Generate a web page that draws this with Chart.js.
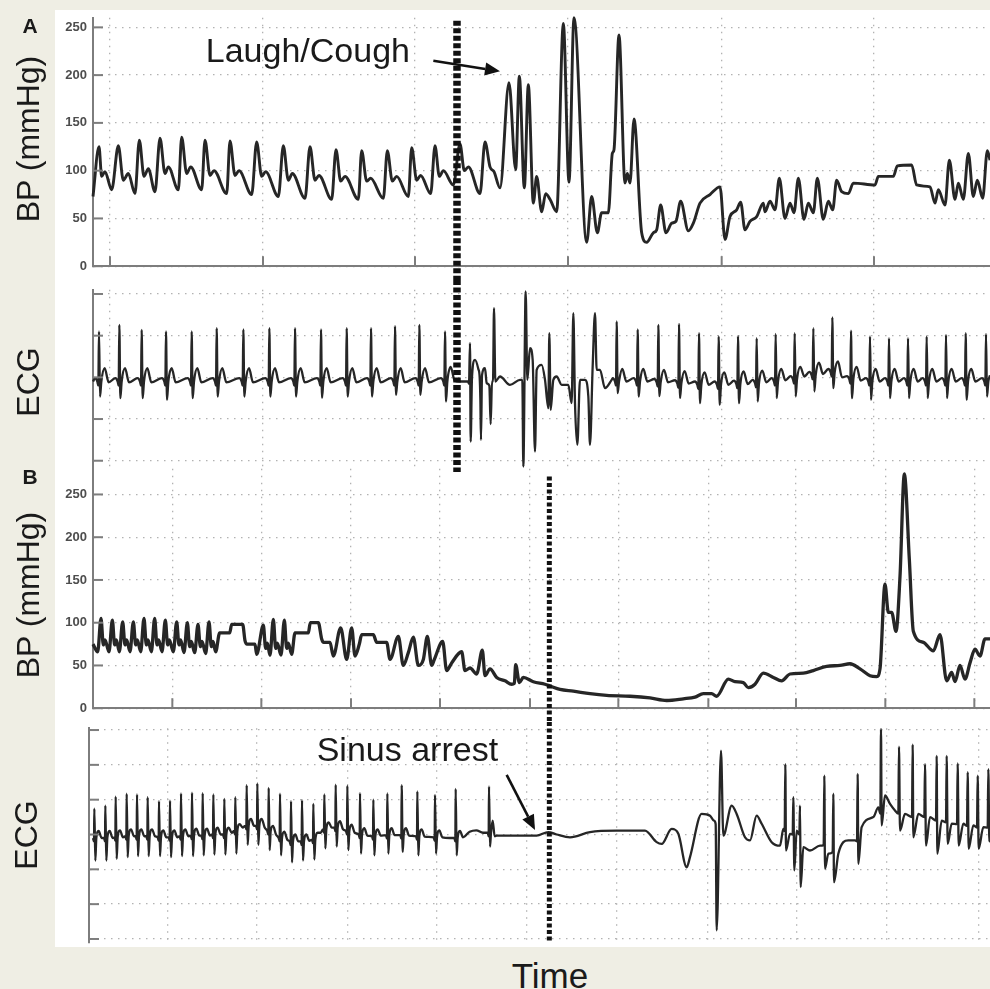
<!DOCTYPE html>
<html>
<head>
<meta charset="utf-8">
<script src="https://cdn.jsdelivr.net/npm/chart.js@4.4.0/dist/chart.umd.min.js"></script>
<style>
  html, body { margin: 0; padding: 0; }
  body { width: 990px; height: 989px; background: #efeee4; position: relative; overflow: hidden;
         font-family: "Liberation Sans", Arial, sans-serif; color: #1a1a1a; }
  #sheet { position: absolute; left: 55px; top: 10px; width: 935px; height: 937px; background: #fff; }
  canvas { position: absolute; left: 0; }
  .txt { position: absolute; white-space: nowrap; }
  .rot { position: absolute; white-space: nowrap; font-size: 32px; line-height: 32px;
         transform: translate(-50%, -50%) rotate(-90deg); }
  .tag { position: absolute; font-weight: bold; font-size: 21px; line-height: 21px;
         transform: translate(-50%, -50%); }
</style>
</head>
<body>
<div id="sheet"></div>
<canvas id="bpA"></canvas>
<canvas id="ecgA"></canvas>
<canvas id="bpB"></canvas>
<canvas id="ecgB"></canvas>

<div class="tag" style="left:30px; top:24.5px;">A</div>
<div class="tag" style="left:30px; top:475.5px;">B</div>
<div class="rot" style="left:28px; top:138.5px;">BP (mmHg)</div>
<div class="rot" style="left:28px; top:382px;">ECG</div>
<div class="rot" style="left:28px; top:594.5px;">BP (mmHg)</div>
<div class="rot" style="left:26px; top:835px;">ECG</div>
<div class="txt" style="left:205.8px; top:32.9px; font-size:34px; line-height:34px;">Laugh/Cough</div>
<div class="txt" style="left:316.7px; top:731.6px; font-size:34px; line-height:34px;">Sinus arrest</div>
<div class="txt" style="left:450px; width:200px; text-align:center; top:957.9px; font-size:35px; line-height:35px;">Time</div>

<script>
// --- Datos: tiempo en muestras, valor de la señal ---

// Tick / grid positions
const bpTicks = [0, 50, 100, 150, 200, 250];
const ecgATicks = [-2, -1, 0, 1, 2];
const ecgBTicks = [-3, -2, -1, 0, 1, 2, 3];
const gridA = [51, 510, 966, 1425, 1886, 2343];
const gridB = [238, 505, 774, 1041, 1311, 1576, 1846, 2109, 2377, 2644];
const gridECGB = [225, 492, 765, 1032, 1302, 1572, 1845, 2112, 2382, 2658];

// Event markers (time) and arrows
const coughMark = 1092;
const arrestMark = 1369;
const coughArrow = [[1021, 215], [1221, 204]];
const arrestArrow = [[1241, 1.71], [1326, 0.13]];

// Panel A - BP (mmHg)
const bpA = [
  [0,73],[18,125],[26,94],[36,99],[56,80],
  [76,126],[91,90],[106,97],[126,76],
  [139,132],[153,94],[166,102],[186,78],
  [201,134],[216,97],[226,104],[256,80],
  [266,135],[281,97],[293,104],[326,80],
  [336,132],[351,95],[363,100],[401,76],
  [411,131],[426,95],[438,100],[476,75],
  [491,130],[506,94],[518,99],[556,73],
  [571,126],[586,90],[598,97],[636,71],
  [651,125],[666,90],[678,95],[716,70],
  [729,122],[743,89],[756,94],[796,70],
  [806,121],[821,89],[833,92],[871,71],
  [883,121],[898,89],[911,94],[946,73],
  [956,124],[971,90],[983,95],[1013,76],
  [1026,126],[1039,94],[1051,100],[1081,85],
  [1101,128],[1114,100],[1126,104],[1161,76],
  [1176,130],[1191,104],[1203,99],[1221,82],
  [1248,192],[1268,101],[1279,199],[1294,82],[1306,190],[1321,66],[1331,94],[1346,57],
  [1358,76],[1371,70],[1391,57],[1411,254],[1428,88],[1443,260],[1481,25],[1496,73],
  [1513,35],[1526,56],[1546,56],[1558,118],[1563,122],[1578,242],[1596,87],[1603,97],
  [1611,87],[1623,154],[1646,35],[1661,25],[1681,35],[1691,38],[1703,64],[1719,35],
  [1736,45],[1749,47],[1763,68],[1786,37],[1801,45],[1821,66],[1851,75],[1881,83],
  [1896,28],[1911,52],[1931,59],[1943,67],[1956,38],[1971,47],[1991,52],[2011,66],
  [2016,57],[2031,68],[2046,59],[2059,92],[2076,50],[2091,66],[2103,56],[2116,92],
  [2133,49],[2146,66],[2161,56],[2173,92],[2191,49],[2206,68],[2219,59],[2231,90],
  [2246,78],[2266,76],[2281,87],[2346,85],[2356,94],[2401,94],[2413,105],[2456,106],
  [2471,85],[2511,83],[2526,66],[2536,80],[2556,64],[2569,111],[2586,70],[2596,87],
  [2611,70],[2626,118],[2641,73],[2653,90],[2669,71],[2683,121],[2691,111]
];

// Panel A - ECG
const ecgA = [
  [0,-0.1],
  [6,-0.02],[13,-0.1],[16,-0.2],[18,1.1],[21,-0.46],[25,-0.1],[35,0.22],[47,-0.12],
  [67,-0.02],[74,-0.1],[77,-0.2],[79,1.26],[82,-0.5],[86,-0.1],[96,0.22],[108,-0.12],
  [134,-0.02],[141,-0.1],[144,-0.2],[146,1.14],[149,-0.5],[153,-0.1],[163,0.22],[175,-0.12],
  [207,-0.02],[214,-0.1],[217,-0.2],[219,1.1],[222,-0.54],[226,-0.1],[236,0.22],[248,-0.12],
  [284,-0.02],[291,-0.1],[294,-0.2],[296,1.1],[299,-0.5],[303,-0.1],[313,0.22],[325,-0.12],
  [359,-0.02],[366,-0.1],[369,-0.2],[371,1.18],[374,-0.46],[378,-0.1],[388,0.22],[400,-0.12],
  [439,-0.02],[446,-0.1],[449,-0.2],[451,1.15],[454,-0.46],[458,-0.1],[468,0.22],[480,-0.12],
  [517,-0.02],[524,-0.1],[527,-0.2],[529,1.18],[532,-0.46],[536,-0.1],[546,0.22],[558,-0.12],
  [594,-0.02],[601,-0.1],[604,-0.2],[606,1.18],[609,-0.46],[613,-0.1],[623,0.22],[635,-0.12],
  [672,-0.02],[679,-0.1],[682,-0.2],[684,1.15],[687,-0.49],[691,-0.1],[701,0.22],[713,-0.12],
  [749,-0.02],[756,-0.1],[759,-0.2],[761,1.18],[764,-0.46],[768,-0.1],[778,0.22],[790,-0.12],
  [822,-0.02],[829,-0.1],[832,-0.2],[834,1.18],[837,-0.46],[841,-0.1],[851,0.22],[863,-0.12],
  [894,-0.02],[901,-0.1],[904,-0.2],[906,1.23],[909,-0.42],[913,-0.1],[923,0.22],[935,-0.12],
  [967,-0.02],[974,-0.1],[977,-0.2],[979,1.26],[982,-0.42],[986,-0.1],[996,0.22],[1008,-0.12],
  [1044,-0.02],[1051,-0.1],[1054,-0.2],[1056,1.1],[1059,-0.58],[1063,-0.1],[1073,0.25],[1085,-0.08],
  [1100,-0.1],[1125,-0.1],[1128,-0.15],[1131,0.82],[1133,-1.54],[1137,0.0],[1146,0.42],[1156,0.2],
  [1160,0.0],[1162,-0.5],[1164,-1.5],[1167,0.05],[1176,0.22],[1181,-0.14],[1189,-0.2],[1193,-1.12],
  [1197,-0.1],[1200,-0.1],[1203,1.66],[1207,-0.1],[1221,0.02],[1251,-0.18],[1281,-0.06],[1288,-0.06],
  [1291,-2.14],[1298,2.06],[1303,-0.06],[1311,0.7],[1319,0.42],[1326,-1.78],[1331,0.18],[1346,0.3],
  [1356,-0.06],[1366,-0.74],[1369,1.06],[1373,-0.78],[1381,-0.06],[1391,0.02],[1406,-0.18],[1426,-0.18],
  [1436,-0.62],[1441,1.54],[1446,-0.62],[1453,-1.62],[1461,-0.06],[1476,-0.06],[1486,-0.46],[1491,-1.62],
  [1499,0.26],[1506,1.54],[1511,0.18],[1521,0.18],[1536,-0.26],[1556,-0.06],
  [1559,-0.02],[1566,-0.1],[1569,-0.2],[1571,1.34],[1574,-0.38],[1578,-0.1],[1588,0.2],[1600,-0.1],
  [1622,-0.02],[1629,-0.1],[1632,-0.2],[1634,1.15],[1637,-0.46],[1641,-0.1],[1651,0.2],[1663,-0.1],
  [1684,-0.04],[1691,-0.12],[1694,-0.22],[1696,1.26],[1699,-0.45],[1703,-0.12],[1713,0.18],[1725,-0.12],
  [1746,-0.07],[1753,-0.15],[1756,-0.25],[1758,1.28],[1761,-0.5],[1765,-0.15],[1775,0.15],[1787,-0.15],
  [1806,-0.1],[1813,-0.18],[1816,-0.28],[1818,1.06],[1821,-0.62],[1825,-0.18],[1835,0.12],[1847,-0.18],
  [1865,-0.1],[1872,-0.18],[1875,-0.28],[1877,0.98],[1880,-0.66],[1884,-0.18],[1894,0.12],[1906,-0.18],
  [1923,-0.08],[1930,-0.16],[1933,-0.26],[1935,0.99],[1938,-0.62],[1942,-0.16],[1952,0.14],[1964,-0.16],
  [1979,-0.06],[1986,-0.14],[1989,-0.24],[1991,0.94],[1994,-0.58],[1998,-0.14],[2008,0.16],[2020,-0.12],
  [2036,-0.02],[2043,-0.1],[2046,-0.2],[2048,1.04],[2051,-0.5],[2055,-0.1],[2065,0.2],[2077,-0.07],
  [2093,0.03],[2100,-0.05],[2103,-0.15],[2105,1.06],[2108,-0.46],[2112,-0.05],[2122,0.25],[2134,0.02],
  [2149,0.13],[2156,0.05],[2159,-0.05],[2161,1.18],[2164,-0.34],[2168,0.05],[2178,0.35],[2190,0.08],
  [2206,0.2],[2213,0.12],[2216,0.02],[2218,1.44],[2221,-0.26],[2225,0.12],[2235,0.38],[2247,0.0],
  [2262,0.03],[2269,-0.05],[2272,-0.15],[2274,1.12],[2277,-0.5],[2281,-0.05],[2291,0.25],[2303,-0.08],
  [2319,-0.02],[2326,-0.1],[2329,-0.2],[2331,0.98],[2334,-0.54],[2338,-0.1],[2348,0.2],[2360,-0.1],
  [2376,-0.02],[2383,-0.1],[2386,-0.2],[2388,0.94],[2391,-0.5],[2395,-0.1],[2405,0.2],[2417,-0.1],
  [2433,-0.02],[2440,-0.1],[2443,-0.2],[2445,0.94],[2448,-0.5],[2452,-0.1],[2462,0.2],[2474,-0.1],
  [2489,-0.02],[2496,-0.1],[2499,-0.2],[2501,0.98],[2504,-0.5],[2508,-0.1],[2518,0.2],[2530,-0.1],
  [2547,-0.02],[2554,-0.1],[2557,-0.2],[2559,1.02],[2562,-0.5],[2566,-0.1],[2576,0.2],[2588,-0.1],
  [2606,-0.02],[2613,-0.1],[2616,-0.2],[2618,1.06],[2621,-0.54],[2625,-0.1],[2635,0.2],[2647,-0.1],
  [2667,-0.02],[2674,-0.1],[2677,-0.2],[2679,1.04],[2682,-0.46],[2686,-0.1],[2691,0.05]
];

// Panel B - BP (mmHg)
const bpB = [
  [0,75],
  [14,66],[24,105],[31,74],[36,80],[48,66],[58,103],[65,74],[70,80],
  [79,66],[89,101],[96,74],[101,80],[111,66],[121,101],[128,74],[133,80],
  [143,66],[153,105],[160,74],[165,80],[175,66],[185,105],[192,74],[197,80],
  [207,66],[217,103],[224,74],[229,80],[241,66],[251,101],[258,74],[263,80],
  [273,65],[283,100],[290,72],[295,78],[305,65],[315,98],[322,72],[327,78],
  [338,64],[348,101],[355,72],[360,78],[368,66],[380,88],[410,88],[416,98],
  [449,98],[456,79],[462,75],[486,75],[491,63],[511,97],[518,70],[523,76],
  [531,62],[541,104],[548,70],[553,76],[564,62],[574,103],[581,70],[586,76],
  [596,63],[606,88],[646,88],[652,100],[676,100],[686,81],[692,77],[711,77],
  [721,61],[743,94],[761,57],[776,94],[786,61],[799,75],[806,86],[841,86],
  [851,77],[881,77],[891,57],[916,84],[931,50],[946,65],[961,83],[976,50],
  [991,57],[1003,84],[1016,50],[1024,57],[1049,78],[1061,44],[1076,53],[1106,66],
  [1116,44],[1131,47],[1151,40],[1168,68],[1176,38],[1191,46],[1211,36],[1236,32],
  [1256,28],[1264,29],[1268,51],[1279,30],[1291,36],[1321,31],[1356,28],[1371,26],
  [1401,22],[1441,20],[1491,17],[1541,15],[1611,14],[1671,12],[1721,9],[1771,11],
  [1806,13],[1831,17],[1856,17],[1871,14],[1906,34],[1926,31],[1951,30],[1966,24],
  [1986,28],[2011,41],[2041,36],[2066,32],[2091,40],[2131,41],[2161,44],[2201,49],
  [2241,50],[2271,52],[2301,46],[2331,38],[2351,37],[2361,46],[2376,145],[2386,112],
  [2396,112],[2409,90],[2421,154],[2434,274],[2449,174],[2461,90],[2491,77],[2521,67],
  [2541,86],[2561,32],[2576,42],[2586,31],[2601,50],[2616,34],[2631,53],[2646,69],
  [2661,61],[2676,81],[2691,81]
];

// Panel B - ECG
const ecgB = [
  [0,-0.1],[3,-0.2],[4,0.74],[7,-0.75],[10,-0.1],[17,0.1],[26,-0.1],
  [33,-0.1],[36,-0.2],[37,0.83],[40,-0.75],[43,-0.1],[50,0.1],[59,-0.1],
  [64,-0.08],[67,-0.18],[68,1.09],[71,-0.7],[74,-0.08],[81,0.12],[90,-0.08],
  [97,-0.05],[100,-0.15],[101,1.17],[104,-0.65],[107,-0.05],[114,0.15],[123,-0.05],
  [128,-0.05],[131,-0.15],[132,1.15],[135,-0.62],[138,-0.05],[145,0.15],[154,-0.05],
  [160,-0.05],[163,-0.15],[164,1.07],[167,-0.62],[170,-0.05],[177,0.15],[186,-0.05],
  [194,-0.08],[197,-0.18],[198,0.96],[201,-0.62],[204,-0.08],[211,0.12],[220,-0.08],
  [227,-0.08],[230,-0.18],[231,0.97],[234,-0.65],[237,-0.08],[244,0.12],[253,-0.08],
  [260,-0.05],[263,-0.15],[264,1.18],[267,-0.62],[270,-0.05],[277,0.15],[286,-0.05],
  [293,-0.03],[296,-0.13],[297,1.2],[300,-0.62],[303,-0.03],[310,0.17],[319,-0.03],
  [325,-0.03],[328,-0.13],[329,1.19],[332,-0.6],[335,-0.03],[342,0.17],[351,-0.03],
  [357,0],[360,-0.1],[361,1.15],[364,-0.58],[367,0],[374,0.2],[383,0],
  [390,0],[393,-0.1],[394,1.02],[397,-0.58],[400,0],[407,0.2],[416,0.05],
  [423,0.1],[426,0],[427,1.07],[430,-0.55],[433,0.1],[440,0.3],[449,0.2],
  [457,0.25],[460,0.15],[461,1.42],[464,-0.3],[467,0.25],[474,0.45],[483,0.25],
  [489,0.25],[492,0.15],[493,1.47],[496,-0.3],[499,0.25],[506,0.45],[515,0.2],
  [523,0.1],[526,0],[527,1.34],[530,-0.45],[533,0.1],[540,0.25],[549,0],
  [557,-0.1],[560,-0.2],[561,1.17],[564,-0.6],[567,-0.1],[574,0.08],[583,-0.15],
  [590,-0.2],[593,-0.3],[594,0.96],[597,-0.8],[600,-0.2],[607,0],[616,-0.2],
  [623,-0.2],[626,-0.3],[627,0.99],[630,-0.75],[633,-0.2],[640,0],[649,-0.18],
  [657,-0.15],[660,-0.25],[661,0.88],[664,-0.72],[667,-0.15],[674,0.05],[683,0.05],
  [690,0.15],[693,0.05],[694,1.15],[697,-0.4],[700,0.15],[707,0.35],[716,0.2],
  [724,0.2],[727,0.1],[728,1.43],[731,-0.35],[734,0.2],[741,0.38],[750,0.15],
  [759,0.1],[762,0],[763,1.4],[766,-0.45],[769,0.1],[776,0.28],[785,0.05],
  [797,0],[800,-0.1],[801,1.19],[804,-0.55],[807,0],[814,0.18],[823,-0.03],
  [837,-0.05],[840,-0.15],[841,1.0],[844,-0.6],[847,-0.05],[854,0.15],[863,-0.03],
  [879,-0.02],[882,-0.12],[883,1.18],[886,-0.55],[889,-0.02],[896,0.18],[905,-0.02],
  [922,-0.02],[925,-0.12],[926,1.42],[929,-0.5],[932,-0.02],[939,0.18],[948,-0.03],
  [969,-0.05],[972,-0.15],[973,1.24],[976,-0.6],[979,-0.05],[986,0.15],[995,-0.06],
  [1022,-0.08],[1025,-0.18],[1026,1.14],[1029,-0.55],[1032,-0.08],[1039,0.12],[1048,-0.08],
  [1070,-0.1],[1084,-0.1],[1087,-0.2],[1088,1.31],[1091,-0.6],[1094,-0.1],[1101,0.1],[1110,-0.08],
  [1130,0.08],[1150,0.12],[1170,0.05],
  [1184,0.05],[1187,-0.05],[1188,1.38],[1191,-0.35],[1194,0.05],[1199,0.4],[1205,-0.05],
  [1211,-0.03],[1331,-0.03],[1366,0.07],[1391,0.0],[1431,-0.08],[1491,0.07],[1571,0.11],
  [1656,0.11],[1691,-0.22],[1706,-0.27],[1736,0.16],[1756,0.02],[1781,-0.94],[1791,-0.65],
  [1826,0.59],[1851,0.54],[1863,0.4],[1868,0.3],[1871,-2.75],[1884,2.41],[1891,-0.03],
  [1916,0.83],[1931,0.59],[1956,-0.08],[1971,-0.17],[1991,0.54],[2006,0.31],[2036,-0.22],
  [2061,-0.32],[2071,0.16],[2075,0.1],[2077,2.02],[2079,-0.46],[2091,0.02],[2099,0.0],
  [2101,1.07],[2104,-1.03],[2111,0.11],[2119,0.0],[2121,0.83],[2123,-1.51],[2131,-0.36],
  [2151,-0.46],[2181,-0.32],[2192,-0.3],[2194,1.69],[2196,-0.98],[2206,-0.55],[2219,-0.5],
  [2221,1.17],[2223,-1.37],[2236,-0.55],[2266,-0.17],[2286,-0.17],[2292,-0.2],[2294,1.74],
  [2296,-0.84],[2306,0.21],[2341,0.5],[2356,0.78],[2362,0.6],[2364,3.03],[2366,0.26],
  [2376,1.12],[2391,0.88],[2406,0.69],[2416,0.6],[2418,2.52],[2421,0.11],[2436,0.59],
  [2457,0.5],[2459,2.58],[2461,-0.08],[2476,0.59],[2494,0.5],[2496,2.02],[2499,-0.32],
  [2511,0.5],[2529,0.4],[2531,2.26],[2533,-0.55],[2546,0.4],[2559,0.35],[2561,2.26],
  [2564,-0.27],[2576,0.31],[2592,0.3],[2594,2.04],[2597,-0.32],[2611,0.31],[2622,0.25],
  [2624,1.79],[2627,-0.41],[2641,0.26],[2652,0.2],[2654,1.69],[2657,-0.41],[2671,0.21],
  [2684,0.2],[2686,1.88],[2689,-0.2],[2691,0.21]
];

// --- Estilos ---
const AXIS = '#7d7d7d', GRID = '#b2b2b2', INK = '#262626';
const DOTS = [1.5, 5.5];

// Ticks hacia dentro, marcador discontinuo y flechas
const decor = {
  id: 'decor',
  afterDatasetsDraw(chart, args, o) {
    const { ctx, chartArea: a, scales: { x, y } } = chart;
    ctx.save();
    ctx.strokeStyle = AXIS;
    ctx.lineWidth = 2;
    y.ticks.forEach(t => {
      const py = y.getPixelForValue(t.value);
      ctx.beginPath(); ctx.moveTo(a.left, py); ctx.lineTo(a.left + 10, py); ctx.stroke();
    });
    if (o.xTicksUp) {
      x.ticks.forEach(t => {
        const px = x.getPixelForValue(t.value);
        ctx.beginPath(); ctx.moveTo(px, a.bottom); ctx.lineTo(px, a.bottom - 10); ctx.stroke();
      });
    }
    const m = o.marker;
    if (m) {
      const px = x.getPixelForValue(m.t);
      const y1 = m.from == null ? 0 : y.getPixelForValue(m.from);
      const y2 = m.to == null ? chart.height : y.getPixelForValue(m.to);
      ctx.setLineDash(m.dash);
      ctx.lineWidth = m.width;
      ctx.strokeStyle = '#111';
      ctx.beginPath(); ctx.moveTo(px, y1); ctx.lineTo(px, y2); ctx.stroke();
      ctx.setLineDash([]);
    }
    if (o.arrow) {
      const [p, q] = o.arrow;
      const x1 = x.getPixelForValue(p[0]), y1 = y.getPixelForValue(p[1]);
      const x2 = x.getPixelForValue(q[0]), y2 = y.getPixelForValue(q[1]);
      const ang = Math.atan2(y2 - y1, x2 - x1);
      const L = 15, W = 6.5;
      const bx = x2 - L * Math.cos(ang), by = y2 - L * Math.sin(ang);
      ctx.strokeStyle = '#111'; ctx.fillStyle = '#111'; ctx.lineWidth = 2.6;
      ctx.beginPath(); ctx.moveTo(x1, y1); ctx.lineTo(bx, by); ctx.stroke();
      ctx.beginPath();
      ctx.moveTo(x2, y2);
      ctx.lineTo(bx - W * Math.sin(ang), by + W * Math.cos(ang));
      ctx.lineTo(bx + W * Math.sin(ang), by - W * Math.cos(ang));
      ctx.closePath(); ctx.fill();
    }
    ctx.restore();
  }
};

function panel(id, p) {
  const cv = document.getElementById(id);
  cv.width = 990;
  cv.height = p.height;
  cv.style.top = p.top + 'px';
  return new Chart(cv, {
    type: 'line',
    data: {
      datasets: [{
        data: p.points.map(([x, y]) => ({ x, y })),
        borderColor: INK,
        borderWidth: p.lineWidth,
        pointRadius: 0,
        cubicInterpolationMode: 'monotone',
        clip: false,
      }],
    },
    options: {
      responsive: false,
      animation: false,
      events: [],
      layout: { padding: { top: p.padTop, bottom: p.padBottom, left: 0, right: 0 } },
      scales: {
        x: {
          type: 'linear', min: p.xMin, max: 2691,
          afterBuildTicks: s => { s.ticks = p.xGrid.map(value => ({ value })); },
          afterFit: s => { s.height = 0; },
          ticks: { display: false },
          grid: { color: GRID, lineWidth: 1.3, drawTicks: false },
          border: { display: p.xLine, color: AXIS, width: 2, dash: DOTS },
        },
        y: {
          type: 'linear', min: p.yMin, max: p.yMax,
          afterBuildTicks: s => { s.ticks = p.yTicks.map(value => ({ value })); },
          afterFit: s => { s.width = p.axisLeft; },
          ticks: {
            display: p.labels, padding: 6, color: '#4d4d4d',
            font: { family: 'Liberation Sans', size: 13, weight: 'bold' },
          },
          grid: { color: GRID, lineWidth: 1.3, drawTicks: false },
          border: { color: AXIS, width: 2, dash: DOTS },
        },
      },
      plugins: {
        legend: { display: false },
        tooltip: { enabled: false },
        decor: { xTicksUp: p.xLine, marker: p.marker, arrow: p.arrow },
      },
    },
    plugins: [decor],
  });
}

panel('bpA', {
  top: 4, height: 276, padTop: 12.4, padBottom: 13, axisLeft: 93,
  xMin: 0, xGrid: gridA, yMin: 0, yMax: 260, yTicks: bpTicks, labels: true, xLine: true,
  points: bpA, lineWidth: 2.9,
  marker: { t: coughMark, from: 257, to: null, width: 7.5, dash: [5, 2.5] },
  arrow: coughArrow,
});
panel('ecgA', {
  top: 280, height: 196, padTop: 9.8, padBottom: 6.1, axisLeft: 93,
  xMin: 0, xGrid: gridA, yMin: -2.22, yMax: 2.1, yTicks: ecgATicks, labels: false, xLine: false,
  points: ecgA, lineWidth: 2.3,
  marker: { t: coughMark, from: null, to: -2.27, width: 7.5, dash: [5, 2.5] },
});
panel('bpB', {
  top: 455, height: 267, padTop: 13.2, padBottom: 13, axisLeft: 93,
  xMin: 0, xGrid: gridB, yMin: 0, yMax: 280, yTicks: bpTicks, labels: true, xLine: true,
  points: bpB, lineWidth: 3.3,
  marker: { t: arrestMark, from: 271, to: null, width: 5, dash: [4, 2.5] },
});
panel('ecgB', {
  top: 722, height: 226, padTop: 6.3, padBottom: 5.2, axisLeft: 89,
  xMin: -12, xGrid: gridECGB, yMin: -3.11, yMax: 3.05, yTicks: ecgBTicks, labels: false, xLine: false,
  points: ecgB, lineWidth: 2.3,
  marker: { t: arrestMark, from: null, to: -3.11, width: 5, dash: [4, 2.5] },
  arrow: arrestArrow,
});
</script>
</body>
</html>
